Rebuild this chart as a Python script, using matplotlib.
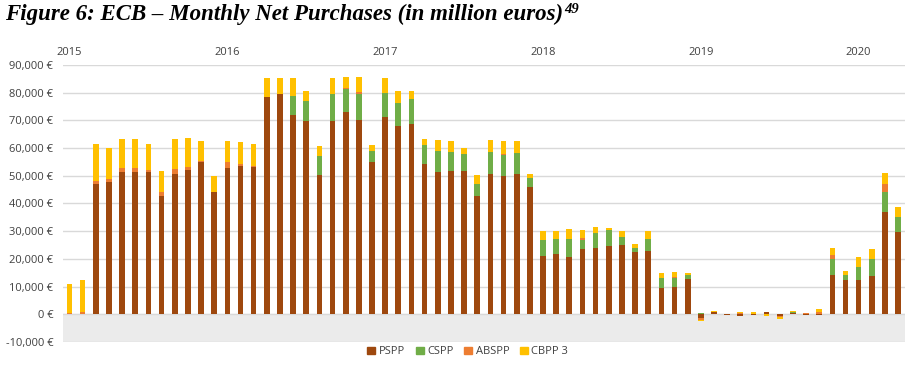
import numpy as np
import pandas as pd
import matplotlib
matplotlib.use("Agg")
import matplotlib.pyplot as plt
from matplotlib.patches import Patch

# Monthly net purchases, Jan 2015 - Apr 2020 (million euros)
months = pd.period_range("2015-01", "2020-04", freq="M")
years = ["2015", "2016", "2017", "2018", "2019", "2020"]

pspp = [0, 0, 47200, 47700, 51400, 51300, 51300, 42800, 50600, 52000, 54900, 44200,
        52900, 53400, 53200, 78500, 79700, 71900, 69700, 50200, 69900, 73100, 70100, 54900,
        71100, 67900, 68700, 54200, 51400, 51700, 51700, 42800, 50600, 50000, 50800, 46000,
        21000, 21600, 20700, 23400, 24100, 24800, 24900, 22500, 22900, 9600, 9900, 12600,
        -1200, 700, -200, -500, -200, 900, -600, 500, -300, -400, 14300, 12500,
        12300, 13900, 37000, 29800]
cspp = [0, 0, 0, 0, 0, 0, 0, 0, 0, 0, 0, 0,
        0, 0, 0, 0, 0, 6900, 7300, 6900, 9800, 8200, 9300, 4100,
        8900, 8200, 8900, 7000, 7600, 7000, 6000, 4400, 8100, 7500, 7300, 3300,
        5700, 5500, 6400, 3300, 5300, 5600, 3000, 1600, 4200, 3600, 3200, 1700,
        300, 200, 0, 0, 0, 0, 0, 300, 0, 0, 5800, 1800,
        4600, 5900, 7200, 5400]
abspp = [500, 800, 1000, 1000, 1500, 1400, 800, 1200, 2000, 1200, 600, 100,
         1900, 800, 300, 100, 0, 0, 0, 0, 0, 500, 800, 0,
         0, 0, 0, 0, 0, 0, 0, 0, 0, 500, 0, 0,
         0, 0, 0, 700, 0, 0, 0, 0, 0, 0, 500, 0,
         -700, 0, -100, 300, 0, 0, -300, 0, 300, 900, 1200, 0,
         0, 0, 3000, 0]
cbpp3 = [10600, 11500, 13100, 11500, 10200, 10500, 9200, 7600, 10500, 10600, 7000, 5700,
         7700, 8100, 7800, 6700, 5600, 6500, 3600, 3600, 5500, 3700, 5300, 2000,
         5200, 4500, 3000, 2000, 3900, 3800, 2500, 3000, 4200, 4500, 4400, 1300,
         3400, 3000, 3600, 3000, 2200, 800, 2000, 1200, 2900, 1700, 1600, 600,
         -400, 400, 0, 500, 800, -700, -800, 500, 200, 900, 2800, 1200,
         3800, 3600, 3900, 3600]

series = {"PSPP": pspp, "CSPP": cspp, "ABSPP": abspp, "CBPP 3": cbpp3}
colors = {"PSPP": "#9E480E", "CSPP": "#70AD47", "ABSPP": "#ED7D31", "CBPP 3": "#FFC000"}

plt.rcParams["font.family"] = ["Open Sans", "DejaVu Sans"]
txt = "#404040"

fig = plt.figure(figsize=(9.12, 3.65), dpi=100)
ax = fig.add_axes([0.069, 0.063, 0.923, 0.759])

x = np.arange(len(months))
pos = np.zeros(len(x))
neg = np.zeros(len(x))
for name, vals in series.items():
    v = np.array(vals, dtype=float)
    bottom = np.where(v >= 0, pos, neg)
    ax.bar(x, v, bottom=bottom, width=0.43, color=colors[name], zorder=3)
    pos += np.where(v >= 0, v, 0)
    neg += np.where(v < 0, v, 0)

ax.axhspan(-10000, 0, color="#EBEBEB", zorder=0)
ax.set_ylim(-10000, 90000)
ax.set_xlim(-0.5, len(x) - 0.5)
ax.set_yticks(np.arange(-10000, 90001, 10000))
ax.set_yticklabels([f"{t:,} €" for t in range(-10000, 90001, 10000)],
                   fontsize=8, color=txt)
ax.yaxis.grid(True, color="#D9D9D9", linewidth=1, zorder=1)
ax.set_axisbelow(True)
ax.set_xticks([])
ax.tick_params(axis="y", length=0, pad=7)
for s in ax.spines.values():
    s.set_visible(False)

# year labels above the plot, at each January
for i, y in enumerate(years):
    ax.text(i * 12, 1.045, y, transform=ax.get_xaxis_transform(),
            ha="center", va="center", fontsize=8, color=txt)

handles = [Patch(color=colors[k], label=k) for k in series]
fig.legend(handles=handles, loc="center", bbox_to_anchor=(0.513, 0.036),
           ncol=4, frameon=False, fontsize=8, handlelength=0.7,
           handleheight=0.7, handletextpad=0.3, columnspacing=1.0,
           labelcolor=txt)

title = fig.text(0.006, 0.945, "Figure 6: ECB – Monthly Net Purchases (in million euros)",
                 fontsize=16.5, fontweight="bold", fontstyle="italic",
                 family="Liberation Serif", va="baseline", ha="left")
fig.canvas.draw()
bb = title.get_window_extent()
fig.text(bb.x1 / fig.bbox.width + 0.001, 0.965, "49", fontsize=10.5,
         fontweight="bold", fontstyle="italic", family="Liberation Serif",
         va="baseline", ha="left")

fig.savefig("out.png", dpi=100)
